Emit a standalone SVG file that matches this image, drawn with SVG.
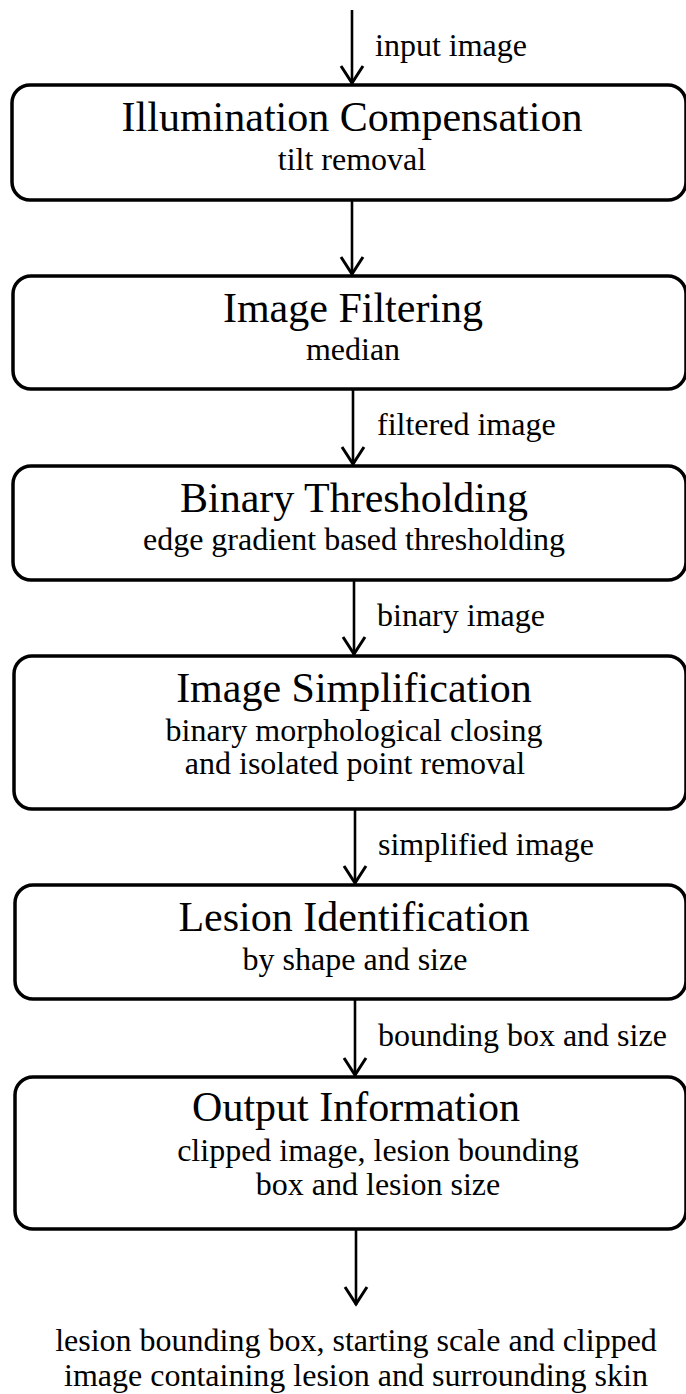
<svg xmlns="http://www.w3.org/2000/svg" width="686" height="1394" viewBox="0 0 686 1394">
  <style>
    .box { fill: #ffffff; stroke: #000000; stroke-width: 3.5; }
    .title { font-family: "Liberation Serif", "Times New Roman", serif; font-size: 42px; fill: #000000; text-anchor: middle; }
    .sub { font-family: "Liberation Serif", "Times New Roman", serif; font-size: 32px; fill: #000000; text-anchor: middle; }
    .label { font-family: "Liberation Serif", "Times New Roman", serif; font-size: 32px; fill: #000000; }
    .wire { stroke: #000000; stroke-width: 2.6; fill: none; }
    .head { stroke: #000000; stroke-width: 3; fill: none; stroke-linejoin: miter; }
  </style>
  <rect width="686" height="1394" fill="#ffffff"/>

  <!-- connectors between the processing stages -->
  <g id="connectors">
    <line class="wire" x1="352" y1="10" x2="352" y2="84"/>
    <line class="wire" x1="352" y1="200" x2="352" y2="275"/>
    <line class="wire" x1="353" y1="389" x2="353" y2="465"/>
    <line class="wire" x1="354" y1="580" x2="354" y2="655"/>
    <line class="wire" x1="355" y1="809" x2="355" y2="884"/>
    <line class="wire" x1="355" y1="999" x2="355" y2="1076"/>
    <line class="wire" x1="356" y1="1229" x2="356" y2="1305"/>
    <path class="head" d="M341 66 L352 83 L363 66"/>
    <path class="head" d="M341 257 L352 274 L363 257"/>
    <path class="head" d="M342 447 L353 464 L364 447"/>
    <path class="head" d="M343 637 L354 654 L365 637"/>
    <path class="head" d="M344 866 L355 883 L366 866"/>
    <path class="head" d="M344 1058 L355 1075 L366 1058"/>
    <path class="head" d="M345 1287 L356 1304 L367 1287"/>
    <text class="label" x="375" y="56">input image</text>
    <text class="label" x="377" y="435">filtered image</text>
    <text class="label" x="377" y="626">binary image</text>
    <text class="label" x="378" y="855">simplified image</text>
    <text class="label" x="378" y="1046">bounding box and size</text>
  </g>

  <g id="illumination">
    <rect class="box" x="12" y="85" width="674" height="115" rx="18"/>
    <text class="title" x="352" y="131">Illumination Compensation</text>
    <text class="sub" x="352" y="170">tilt removal</text>
  </g>

  <g id="filtering">
    <rect class="box" x="13" y="276" width="673" height="113" rx="18"/>
    <text class="title" x="353" y="322">Image Filtering</text>
    <text class="sub" x="353" y="360">median</text>
  </g>

  <g id="thresholding">
    <rect class="box" x="13" y="466" width="673" height="114" rx="18"/>
    <text class="title" x="354" y="512">Binary Thresholding</text>
    <text class="sub" x="354" y="550">edge gradient based thresholding</text>
  </g>

  <g id="simplification">
    <rect class="box" x="14" y="656" width="672" height="153" rx="18"/>
    <text class="title" x="354" y="702">Image Simplification</text>
    <text class="sub" x="354" y="741">binary morphological closing</text>
    <text class="sub" x="355" y="774">and isolated point removal</text>
  </g>

  <g id="identification">
    <rect class="box" x="15" y="885" width="671" height="114" rx="18"/>
    <text class="title" x="354" y="931">Lesion Identification</text>
    <text class="sub" x="355" y="970">by shape and size</text>
  </g>

  <g id="output">
    <rect class="box" x="15" y="1077" width="671" height="152" rx="18"/>
    <text class="title" x="356" y="1121">Output Information</text>
    <text class="sub" x="378" y="1161">clipped image, lesion bounding</text>
    <text class="sub" x="378" y="1195">box and lesion size</text>
  </g>

  <g id="result">
    <text class="sub" x="356" y="1351">lesion bounding box, starting scale and clipped</text>
    <text class="sub" x="356" y="1386">image containing lesion and surrounding skin</text>
  </g>
</svg>
